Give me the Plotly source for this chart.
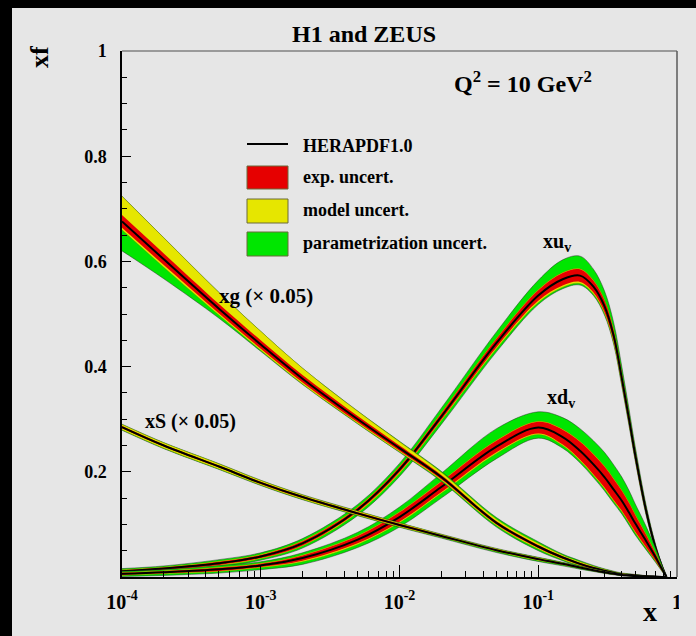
import plotly.graph_objects as go

# ---------------- data ----------------
X = [1e-4, 2e-4, 5e-4, 1e-3, 2e-3, 5e-3, 1e-2, 2e-2, 5e-2, 0.1, 0.15, 0.2,
     0.25, 0.3, 0.35, 0.4, 0.45, 0.5, 0.6, 0.7, 0.78, 0.84]

# xg (x 0.05)
XG = [0.676, 0.604, 0.510, 0.442, 0.377, 0.300, 0.245, 0.190, 0.103, 0.058, 0.037, 0.025,
      0.017, 0.012, 0.008, 0.005, 0.004, 0.003, 0.0015, 0.0007, 0.0002, 0.0]
XG_EXP = [0.012, 0.011, 0.009, 0.008, 0.007, 0.006, 0.005, 0.004, 0.003, 0.003, 0.0025, 0.002,
          0.002, 0.0015, 0.001, 0.001, 0.001, 0.0008, 0.0005, 0.0003, 0.0001, 0.0]
XG_MOD_UP = [0.036, 0.030, 0.022, 0.017, 0.013, 0.009, 0.007, 0.005, 0.004, 0.003, 0.002, 0.002,
             0.0015, 0.001, 0.001, 0.0008, 0.0006, 0.0005, 0.0003, 0.0002, 0.0001, 0.0]
XG_MOD_DN = [0.004, 0.004, 0.003, 0.003, 0.003, 0.002, 0.002, 0.002, 0.002, 0.002, 0.0015, 0.001,
             0.001, 0.001, 0.0008, 0.0006, 0.0005, 0.0004, 0.0003, 0.0002, 0.0001, 0.0]
XG_PAR_UP = [0.0, 0.0, 0.0, 0.0, 0.0, 0.0005, 0.001, 0.002, 0.003, 0.003, 0.002, 0.002,
             0.0015, 0.001, 0.001, 0.0008, 0.0006, 0.0005, 0.0003, 0.0002, 0.0001, 0.0]
XG_PAR_DN = [0.040, 0.022, 0.006, 0.002, 0.001, 0.001, 0.001, 0.002, 0.003, 0.003, 0.002, 0.002,
             0.0015, 0.001, 0.001, 0.0008, 0.0006, 0.0005, 0.0003, 0.0002, 0.0001, 0.0]

# xS (x 0.05)
XS = [0.285, 0.250, 0.210, 0.179, 0.152, 0.121, 0.099, 0.078, 0.051, 0.034, 0.025, 0.018,
      0.013, 0.009, 0.006, 0.004, 0.003, 0.002, 0.001, 0.0005, 0.0002, 0.0]
XS_EXP = [0.002, 0.002, 0.002, 0.002, 0.002, 0.002, 0.002, 0.0015, 0.0015, 0.0015, 0.001, 0.001,
          0.001, 0.001, 0.0008, 0.0006, 0.0005, 0.0004, 0.0003, 0.0002, 0.0001, 0.0]
XS_MOD_UP = [0.003, 0.003, 0.003, 0.0025, 0.002, 0.002, 0.0015, 0.0015, 0.001, 0.001, 0.001, 0.0008,
             0.0006, 0.0005, 0.0004, 0.0003, 0.0002, 0.0002, 0.0001, 0.0001, 0.0, 0.0]
XS_MOD_DN = [0.003, 0.003, 0.0025, 0.002, 0.002, 0.0015, 0.0015, 0.001, 0.001, 0.001, 0.0008, 0.0006,
             0.0005, 0.0004, 0.0003, 0.0002, 0.0002, 0.0001, 0.0001, 0.0, 0.0, 0.0]
XS_PAR_UP = [0.0005, 0.0005, 0.0005, 0.0005, 0.0005, 0.0005, 0.0005, 0.0005, 0.0008, 0.001, 0.001, 0.0008,
             0.0006, 0.0005, 0.0004, 0.0003, 0.0002, 0.0002, 0.0001, 0.0001, 0.0, 0.0]
XS_PAR_DN = [0.001, 0.001, 0.001, 0.001, 0.001, 0.001, 0.001, 0.0015, 0.002, 0.002, 0.002, 0.0015,
             0.001, 0.0008, 0.0006, 0.0005, 0.0004, 0.0003, 0.0002, 0.0001, 0.0, 0.0]

# xu_v
XU = [0.011, 0.016, 0.026, 0.039, 0.064, 0.128, 0.204, 0.305, 0.445, 0.535, 0.566, 0.573,
      0.552, 0.515, 0.458, 0.378, 0.302, 0.232, 0.125, 0.056, 0.020, 0.0]
XU_EXP = [0.002, 0.002, 0.003, 0.003, 0.004, 0.004, 0.005, 0.006, 0.008, 0.010, 0.012, 0.012,
          0.011, 0.011, 0.010, 0.009, 0.008, 0.007, 0.005, 0.003, 0.0015, 0.0]
XU_MOD_UP = [0.001, 0.001, 0.001, 0.001, 0.001, 0.001, 0.001, 0.001, 0.001, 0.001, 0.001, 0.001,
             0.001, 0.001, 0.001, 0.001, 0.001, 0.001, 0.0008, 0.0005, 0.0002, 0.0]
XU_MOD_DN = [0.001, 0.001, 0.001, 0.001, 0.001, 0.002, 0.002, 0.002, 0.003, 0.003, 0.003, 0.003,
             0.003, 0.003, 0.003, 0.003, 0.002, 0.002, 0.0015, 0.001, 0.0005, 0.0]
XU_PAR_UP = [0.002, 0.002, 0.003, 0.003, 0.004, 0.005, 0.006, 0.009, 0.012, 0.018, 0.024, 0.024,
             0.021, 0.017, 0.014, 0.012, 0.010, 0.008, 0.005, 0.003, 0.001, 0.0]
XU_PAR_DN = [0.002, 0.002, 0.003, 0.003, 0.004, 0.005, 0.006, 0.007, 0.006, 0.004, 0.003, 0.003,
             0.003, 0.003, 0.003, 0.003, 0.003, 0.002, 0.002, 0.001, 0.0005, 0.0]

# xd_v
XD = [0.006, 0.009, 0.0145, 0.022, 0.036, 0.071, 0.114, 0.171, 0.248, 0.284, 0.266, 0.240,
      0.214, 0.190, 0.166, 0.145, 0.123, 0.102, 0.068, 0.038, 0.015, 0.0]
XD_EXP = [0.002, 0.002, 0.003, 0.003, 0.005, 0.007, 0.009, 0.010, 0.011, 0.011, 0.014, 0.017,
          0.019, 0.020, 0.020, 0.019, 0.018, 0.016, 0.012, 0.007, 0.003, 0.0]
XD_MOD_UP = [0.001, 0.001, 0.001, 0.001, 0.001, 0.001, 0.001, 0.001, 0.001, 0.001, 0.001, 0.001,
             0.001, 0.001, 0.001, 0.001, 0.001, 0.001, 0.0008, 0.0005, 0.0002, 0.0]
XD_MOD_DN = [0.001, 0.001, 0.001, 0.001, 0.002, 0.002, 0.002, 0.002, 0.002, 0.002, 0.002, 0.002,
             0.002, 0.002, 0.002, 0.002, 0.002, 0.002, 0.0015, 0.001, 0.0005, 0.0]
XD_PAR_UP = [0.002, 0.002, 0.003, 0.003, 0.004, 0.006, 0.009, 0.015, 0.022, 0.018, 0.022, 0.024,
             0.025, 0.026, 0.026, 0.025, 0.023, 0.020, 0.015, 0.009, 0.004, 0.0]
XD_PAR_DN = [0.002, 0.003, 0.003, 0.004, 0.005, 0.006, 0.008, 0.009, 0.010, 0.007, 0.005, 0.004,
             0.004, 0.004, 0.004, 0.004, 0.004, 0.004, 0.003, 0.002, 0.001, 0.0]

X_TICKS = [1e-4, 1e-3, 1e-2, 1e-1, 1]
X_TICKTEXT = ["10<sup>-4</sup>", "10<sup>-3</sup>", "10<sup>-2</sup>", "10<sup>-1</sup>", "1"]
Y_TICKS = [0.2, 0.4, 0.6, 0.8, 1.0]
Y_TICKTEXT = ["0.2", "0.4", "0.6", "0.8", "1"]

LEGEND_LABELS = ["HERAPDF1.0", "exp. uncert.", "model uncert.", "parametrization uncert."]

RED = "#e60000"
YELLOW = "#e6e600"
GREEN = "#00e600"
BG = "#e6e6e6"
FONT = "Liberation Serif, Times New Roman, serif"

# ---------------- figure ----------------
fig = go.Figure()


def add_pdf(c, e, mu, md, pu, pd):
    g_lo = [ci - ei - mdi - pdi for ci, ei, mdi, pdi in zip(c, e, md, pd)]
    g_hi = [ci + ei + mui + pui for ci, ei, mui, pui in zip(c, e, mu, pu)]
    y_lo = [ci - ei - mdi for ci, ei, mdi in zip(c, e, md)]
    y_hi = [ci + ei + mui for ci, ei, mui in zip(c, e, mu)]
    r_lo = [ci - ei for ci, ei in zip(c, e)]
    r_hi = [ci + ei for ci, ei in zip(c, e)]
    for lo, hi, col, edge in [(g_lo, g_hi, GREEN, "rgba(40,40,40,0.8)"),
                              (y_lo, y_hi, YELLOW, "rgba(120,120,0,0.6)"),
                              (r_lo, r_hi, RED, "rgba(0,0,0,0)")]:
        fig.add_trace(go.Scatter(x=X, y=lo, mode="lines",
                                 line=dict(color=edge, width=0.6, shape="spline"),
                                 showlegend=False, hoverinfo="skip"))
        fig.add_trace(go.Scatter(x=X, y=hi, mode="lines", fill="tonexty", fillcolor=col,
                                 line=dict(color=edge, width=0.6, shape="spline"),
                                 showlegend=False, hoverinfo="skip"))
    fig.add_trace(go.Scatter(x=X, y=c, mode="lines",
                             line=dict(color="black", width=2, shape="spline"),
                             showlegend=False, hoverinfo="skip"))


add_pdf(XU, XU_EXP, XU_MOD_UP, XU_MOD_DN, XU_PAR_UP, XU_PAR_DN)
add_pdf(XD, XD_EXP, XD_MOD_UP, XD_MOD_DN, XD_PAR_UP, XD_PAR_DN)
add_pdf(XG, XG_EXP, XG_MOD_UP, XG_MOD_DN, XG_PAR_UP, XG_PAR_DN)
add_pdf(XS, XS_EXP, XS_MOD_UP, XS_MOD_DN, XS_PAR_UP, XS_PAR_DN)

# pixel -> paper helpers (decoration placement only)
PW, PH = 696, 636
L, R, T, B = 122, 677, 51, 577
W, H = R - L, B - T


def px(v):
    return (v - L) / W


def py(v):
    return (B - v) / H


shapes = []
# grey panel to the right of the frame
shapes.append(dict(type="rect", xref="paper", yref="paper", x0=px(679), x1=px(PW), y0=py(PH), y1=py(8),
                   fillcolor=BG, line=dict(width=0), layer="above"))
# black strips at top and left of page (kept inside the page)
shapes.append(dict(type="rect", xref="paper", yref="paper", x0=px(0), x1=px(12), y0=py(PH), y1=py(0),
                   fillcolor="black", line=dict(width=0), layer="above"))
shapes.append(dict(type="rect", xref="paper", yref="paper", x0=px(0), x1=px(PW), y0=py(8), y1=py(0),
                   fillcolor="black", line=dict(width=0), layer="above"))
# frame top/right
shapes.append(dict(type="line", xref="paper", yref="paper", x0=0, x1=1, y0=1, y1=1,
                   line=dict(color="#9a9a9a", width=2), layer="above"))
shapes.append(dict(type="line", xref="paper", yref="paper", x0=1, x1=1, y0=0, y1=1,
                   line=dict(color="#5a5a5a", width=1.5), layer="above"))
# legend
shapes.append(dict(type="line", xref="paper", yref="paper", x0=px(247), x1=px(288), y0=py(144), y1=py(144),
                   line=dict(color="black", width=2)))
for (y0, y1), col in zip([(166, 189), (199, 223), (232, 256)], [RED, YELLOW, GREEN]):
    shapes.append(dict(type="rect", xref="paper", yref="paper", x0=px(247), x1=px(288),
                       y0=py(y1), y1=py(y0), fillcolor=col, line=dict(color="#6b6b3a", width=1)))

ann = []


def text(t, x, y, size, xanchor="center", angle=0):
    ann.append(dict(text="<b>" + t + "</b>", x=px(x), y=py(y), xref="paper", yref="paper",
                    showarrow=False, xanchor=xanchor, yanchor="middle", textangle=angle,
                    font=dict(family=FONT, size=size, color="black")))


text("H1 and ZEUS", 364, 34, 24)
text("Q<sup>2</sup> = 10 GeV<sup>2</sup>", 523, 82, 24)
for lab, yy in zip(LEGEND_LABELS, [146, 177, 210, 243]):
    text(lab, 301, yy, 18, xanchor="left")
text("xg (× 0.05)", 266, 296, 21)
text("xS (× 0.05)", 190, 421, 20)
text("xu<sub>v</sub>", 557, 242, 20)
text("xd<sub>v</sub>", 561, 398, 20)
text("x", 650, 611, 28)
text("xf", 40, 57, 26, angle=-90)

fig.update_layout(
    width=PW, height=PH,
    margin=dict(l=L, r=PW - R, t=T, b=PH - B, pad=0),
    paper_bgcolor=BG, plot_bgcolor=BG,
    showlegend=False,
    shapes=shapes, annotations=ann,
    xaxis=dict(type="log", range=[-4, 0], tickvals=X_TICKS, ticktext=["<b>" + t + "</b>" for t in X_TICKTEXT],
               ticks="inside", ticklen=12, tickwidth=1, tickcolor="black",
               showline=True, linecolor="black", linewidth=1.5, mirror=False,
               showgrid=False, zeroline=False, ticklabelstandoff=6,
               tickfont=dict(family=FONT, size=20, color="black"),
               minor=dict(ticks="inside", ticklen=6, tickcolor="black", dtick="D1", showgrid=False)),
    yaxis=dict(range=[0, 1], tickvals=Y_TICKS, ticktext=["<b>" + t + "</b>" for t in Y_TICKTEXT],
               ticks="inside", ticklen=9, tickwidth=1, tickcolor="black",
               showline=True, linecolor="black", linewidth=1.5, mirror=False,
               showgrid=False, zeroline=False, ticklabelstandoff=10,
               tickfont=dict(family=FONT, size=18, color="black"),
               minor=dict(ticks="inside", ticklen=5, tickcolor="black", dtick=0.05, tick0=0,
                          showgrid=False)),
)

fig.write_html(
    "out.html",
    config={"displayModeBar": False},
    post_script="document.documentElement.style.overflow='hidden';"
                "document.documentElement.style.background='" + BG + "';"
                "document.body.style.overflow='hidden';document.body.style.margin='0';"
                "document.body.style.background='" + BG + "';",
)
